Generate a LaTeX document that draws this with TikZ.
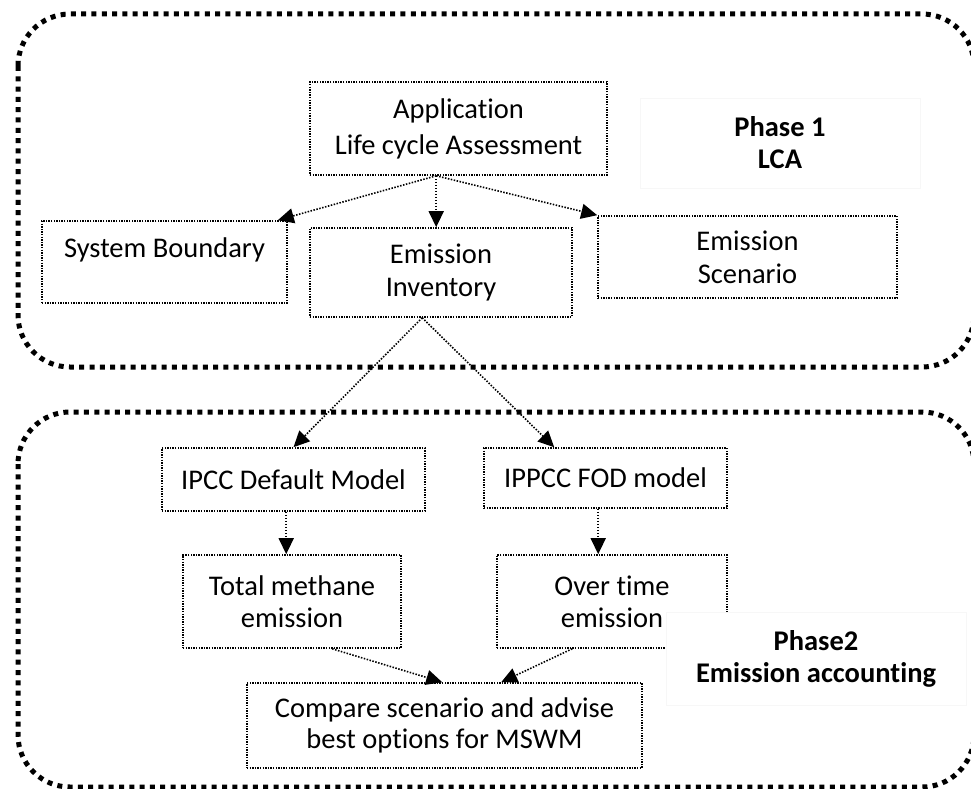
\documentclass[tikz,border=0pt]{standalone}
\usepackage{fontspec}
\setmainfont{Carlito}[Ligatures={NoCommon}]
\usetikzlibrary{arrows.meta}
\begin{document}
\begin{tikzpicture}[x=1pt,y=-1pt,
  outer/.style={line width=5pt, dash pattern=on 5pt off 5.3pt, rounded corners=52pt},
  box/.style={draw, line width=1.6pt, dash pattern=on 1.4pt off 1.2pt, inner sep=0pt,
              align=center, font=\fontsize{28.5}{33}\selectfont},
  phase/.style={draw=black!3, fill=white, line width=0.6pt, inner sep=0pt,
              align=center, font=\fontsize{28.5}{32}\selectfont\bfseries},
  arr/.style={line width=1.6pt, dash pattern=on 1.5pt off 1.5pt,
              -{Triangle[length=16pt,width=15pt]}}
]
\useasboundingbox (0,0) rectangle (971,789);
\clip (0,0) rectangle (971,789);

% phase frames
\draw[outer] (18,14) rectangle (974,367);
\draw[outer] (18,412) rectangle (974,787);

% phase 1 nodes
\node[phase, minimum width=280pt, minimum height=90pt] (p1) at (780,143) {Phase 1\\LCA};
\node[box, minimum width=297pt, minimum height=93pt, font=\fontsize{28.5}{36}\selectfont] (app) at (458.5,128.5) {Application\\Life cycle Assessment};
\node[box, minimum width=245pt, minimum height=82pt] (sys) at (164.5,262) {};
\node[font=\fontsize{28.5}{33}\selectfont] (systxt) at ([yshift=12pt]sys.center) {System Boundary};
\node[box, minimum width=262pt, minimum height=89pt] (inv) at (441,272.5) {Emission\\Inventory};
\node[box, minimum width=299pt, minimum height=82pt] (scen) at (747.5,257) {Emission\\Scenario};

% phase 2 nodes
\node[box, minimum width=263pt, minimum height=63pt] (ipcc) at (293.5,479.5) {IPCC Default Model};
\node[box, minimum width=243pt, minimum height=60pt] (fod) at (605.5,478) {IPPCC FOD model};
\node[box, minimum width=218pt, minimum height=93pt, font=\fontsize{28.5}{32}\selectfont] (tot) at (292,601.5) {Total methane\\emission};
\node[box, minimum width=230pt, minimum height=93pt, font=\fontsize{28.5}{32}\selectfont] (over) at (612,601.5) {Over time\\emission};
\node[phase, minimum width=300pt, minimum height=93pt] (p2) at (816,658.5) {Phase2\\Emission accounting};
\node[box, minimum width=395pt, minimum height=85pt, font=\fontsize{28.5}{31}\selectfont] (cmp) at (444.5,725.5) {Compare scenario and advise\\best options for MSWM};

% connectors
\coordinate (appout) at ([xshift=127pt]app.south west);
\draw[arr] (appout) -- ([xshift=-10pt]sys.north east);
\draw[arr] (appout) -- ([xshift=127pt]inv.north west);
\draw[arr] (appout) -- (scen.north west);
\coordinate (invout) at ([xshift=113pt]inv.south west);
\draw[arr] (invout) -- (ipcc.north);
\draw[arr] (invout) -- ([xshift=71pt]fod.north west);
\draw[arr] ([xshift=125pt]ipcc.south west) -- ([xshift=104pt]tot.north west);
\draw[arr] ([xshift=115pt]fod.south west) -- ([xshift=102pt]over.north west);
\draw[arr] ([xshift=150pt]tot.south west) -- ([xshift=196pt]cmp.north west);
\draw[arr] ([xshift=76pt]over.south west) -- ([xshift=255pt]cmp.north west);
\end{tikzpicture}
\end{document}
